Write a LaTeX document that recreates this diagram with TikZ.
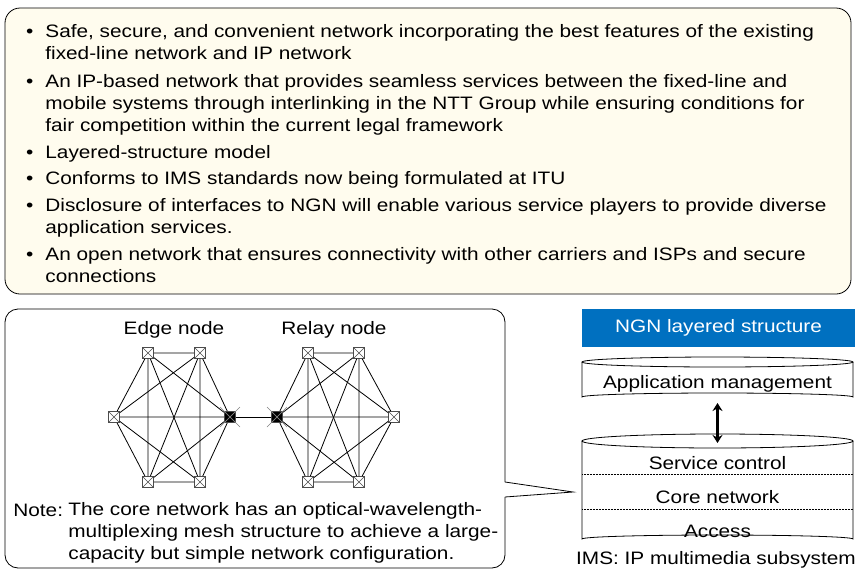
\documentclass[tikz,border=0pt]{standalone}
\usepackage{fontspec}
\setmainfont{Liberation Sans}[FakeStretch=1.155]
\usetikzlibrary{positioning,arrows.meta}
\definecolor{notecream}{RGB}{255,252,238}
\definecolor{ngnblue}{RGB}{0,112,192}

\begin{document}
\begin{tikzpicture}[x=1pt, y=-1pt, line width=.8pt,
  every node/.style={font=\fontsize{18}{22}\selectfont, inner sep=0pt},
  item/.style={anchor=base west, align=left},
  xbox/.style={draw=black!70, fill=white, minimum size=11pt,
    path picture={\draw[line width=.6pt] (path picture bounding box.north west) -- (path picture bounding box.south east)
      (path picture bounding box.north east) -- (path picture bounding box.south west);}},
  xboxblk/.style={xbox, fill=black, path picture={\draw[gray, line width=.6pt] (path picture bounding box.north west) -- (path picture bounding box.south east)
      (path picture bounding box.north east) -- (path picture bounding box.south west);}},
  layer/.style={anchor=center}]
\useasboundingbox (0,0) rectangle (855,571);
% feature list (base = last line of each item)
\draw[rounded corners=15, fill=notecream] (5,8) rectangle (851,294);
\node[item] (b1) at (45,59) {\llap{\textbullet\hspace{12pt}}Safe, secure, and convenient network incorporating the best features of the existing\\fixed-line network and IP network};
\node[item] (b2) at (45,131) {\llap{\textbullet\hspace{12pt}}An IP-based network that provides seamless services between the fixed-line and\\mobile systems through interlinking in the NTT Group while ensuring conditions for\\fair competition within the current legal framework};
\node[item] (b3) at (45,158) {\llap{\textbullet\hspace{12pt}}Layered-structure model};
\node[item] (b4) at (45,184) {\llap{\textbullet\hspace{12pt}}Conforms to IMS standards now being formulated at ITU};
\node[item] (b5) at (45,233) {\llap{\textbullet\hspace{12pt}}Disclosure of interfaces to NGN will enable various service players to provide diverse\\application services.};
\node[item] (b6) at (45,282) {\llap{\textbullet\hspace{12pt}}An open network that ensures connectivity with other carriers and ISPs and secure\\connections};
% callout box
\draw[rounded corners=13] (505,482) -- (505,309) -- (5,309) -- (5,568) -- (505,568) -- (505,497);
\draw (505,482) -- (573,492) -- (505,497);
% mesh: edge side
\node at (174,330) {Edge node};
\node at (334,330) {Relay node};
\node[xbox] (e1) at (148,353) {};
\node[xbox] (e2) at (200,353) {};
\node[xboxblk] (e3) at (230,417) {};
\node[xbox] (e4) at (200,482) {};
\node[xbox] (e5) at (148,482) {};
\node[xbox] (e6) at (114,417) {};
% mesh: relay side
\node[xbox] (r1) at (308,353) {};
\node[xbox] (r2) at (359,353) {};
\node[xbox] (r3) at (394,417) {};
\node[xbox] (r4) at (359,482) {};
\node[xbox] (r5) at (308,482) {};
\node[xboxblk] (r6) at (277,417) {};
% full mesh links
\draw (e1) -- (e2) (e1) -- (e3) (e1) -- (e4) (e1) -- (e5) (e1) -- (e6);
\draw (e2) -- (e3) (e2) -- (e4) (e2) -- (e5) (e2) -- (e6);
\draw (e3) -- (e4) (e3) -- (e5) (e3) -- (e6);
\draw (e4) -- (e5) (e4) -- (e6) (e5) -- (e6);
\draw (r1) -- (r2) (r1) -- (r3) (r1) -- (r4) (r1) -- (r5) (r1) -- (r6);
\draw (r2) -- (r3) (r2) -- (r4) (r2) -- (r5) (r2) -- (r6);
\draw (r3) -- (r4) (r3) -- (r5) (r3) -- (r6);
\draw (r4) -- (r5) (r4) -- (r6) (r5) -- (r6);
\draw (e3) -- (r6);
% crosses on the gateway nodes
\draw[gray, line width=.6pt] (e3) ++(-10,-10) -- ++(20,20) (e3) ++(-10,10) -- ++(20,-20);
\draw[gray, line width=.6pt] (r6) ++(-10,-10) -- ++(20,20) (r6) ++(-10,10) -- ++(20,-20);
% note
\node[anchor=base west] (note) at (13,516) {Note:};
\node[item] (notetext) at (68,559) {The core network has an optical-wavelength-\\multiplexing mesh structure to achieve a large-\\capacity but simple network configuration.};
% NGN layers
\node[fill=ngnblue, text=white, minimum width=273pt, minimum height=38pt] (ngn) at (718.5,328) {NGN layered structure};
\draw (582,362) -- (582,397) arc[start angle=180, end angle=360, x radius=135.5, y radius=4] -- (853,362);
\draw (717.5,362) ellipse[x radius=135.5, y radius=5];
\node[layer] (app) at (717.5,384) {Application management};
\draw (582,441) -- (582,539) arc[start angle=180, end angle=360, x radius=135.5, y radius=4] -- (853,441);
\draw (717.5,441) ellipse[x radius=135.5, y radius=7];
\draw[densely dotted, line width=.5pt] (582,474) -- (853,474) (582,509) -- (853,509);
\node[layer] (svc) at (717.5,463.5) {Service control};
\node[layer] (core) at (717.5,497.5) {Core network};
\node[layer] (acc) at (717.5,531) {Access};
\coordinate (apptop) at (717.5,403);
\coordinate (imstop) at (717.5,443);
\draw[line width=2.5pt, {Stealth[length=8pt,width=10pt]}-{Stealth[length=8pt,width=10pt]}] (apptop) -- (imstop);
\node (ims) at (716,560) {IMS: IP multimedia subsystem};
\end{tikzpicture}
\end{document}
